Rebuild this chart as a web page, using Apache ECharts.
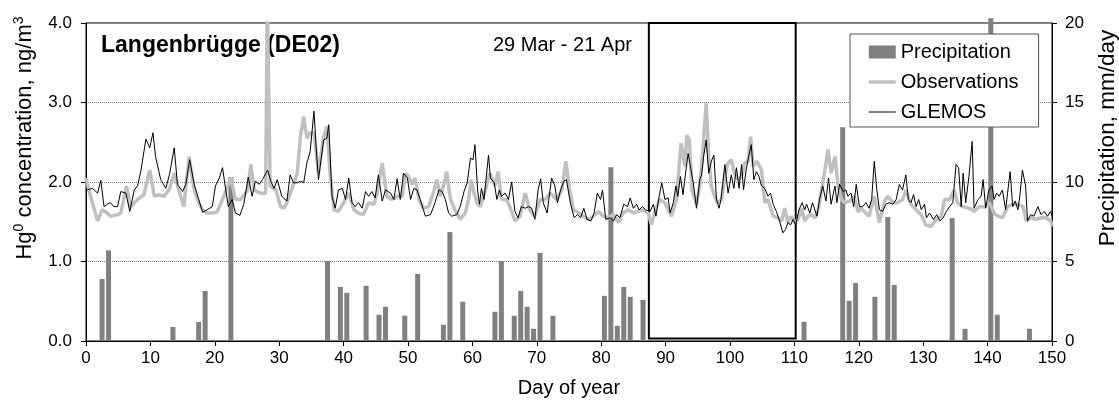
<!DOCTYPE html>
<html><head><meta charset="utf-8">
<script src="https://cdn.jsdelivr.net/npm/echarts@6/dist/echarts.min.js"></script>
<style>html,body{margin:0;padding:0;background:#fff}#c{width:1119px;height:403px}</style>
</head><body><div id="c"></div>
<script>
var xTicks = [0, 150, 10];
var concTicks = [0, 4, 1];
var precTicks = [0, 20, 5];
var boxDays = [87.4, 110.2];
var precip = [[2.5,3.9],[3.5,5.7],[13.5,0.88],[17.5,1.2],[18.5,3.15],[22.5,10.3],[37.5,5.03],[39.5,3.4],[40.5,3.03],[43.5,3.47],[45.5,1.65],[46.5,2.15],[49.5,1.59],[51.5,4.22],[55.5,1.02],[56.5,6.85],[58.5,2.47],[63.5,1.84],[64.5,5.03],[66.5,1.59],[67.5,3.15],[68.5,2.15],[69.5,0.77],[70.5,5.54],[72.5,1.59],[80.5,2.84],[81.5,10.93],[82.5,0.96],[83.5,3.4],[84.5,2.78],[86.5,2.59],[111.5,1.21],[117.5,13.44],[118.5,2.53],[119.5,3.65],[122.5,2.78],[124.5,7.8],[125.5,3.53],[134.5,7.73],[136.5,0.77],[140.5,20.3],[141.5,1.65],[146.5,0.77]];
var observations = [[0,2.05],[0.7,1.82],[1.8,1.51],[2.5,1.65],[3.3,1.61],[3.8,1.57],[4.9,1.59],[5.4,1.61],[6.3,1.95],[6.9,1.69],[8.0,1.78],[9.0,1.84],[9.9,2.15],[10.6,1.82],[11.3,1.84],[12.1,1.82],[12.9,1.90],[13.7,2.11],[14.4,1.90],[15.2,1.69],[16.0,2.32],[16.8,1.90],[17.3,1.78],[18.1,1.65],[18.8,1.61],[19.9,1.61],[20.4,1.63],[21.4,1.82],[22.5,2.05],[23.2,1.78],[24.0,1.78],[25.1,1.90],[25.6,2.22],[26.1,1.90],[27.1,1.86],[27.9,1.86],[28.15,4.3],[28.6,1.95],[29.5,1.90],[30.2,1.69],[30.7,1.67],[31.2,1.74],[32.2,1.97],[32.8,2.11],[33.3,2.57],[33.8,2.82],[34.3,2.55],[34.8,2.62],[35.4,2.62],[36.1,2.11],[36.9,2.57],[37.4,2.70],[37.9,2.11],[38.5,1.65],[39.2,1.63],[40.0,1.74],[40.8,1.86],[41.6,1.65],[42.3,1.61],[43.1,1.59],[43.9,1.74],[44.7,1.72],[45.2,1.86],[46.0,2.24],[46.7,1.82],[47.5,1.78],[48.3,1.82],[49.1,1.82],[49.6,2.11],[50.1,2.07],[50.6,1.97],[51.1,2.05],[51.7,1.78],[52.4,1.67],[53.2,1.69],[54.0,1.88],[54.5,2.03],[55.0,1.82],[55.5,1.95],[56.0,2.13],[56.6,1.78],[57.4,1.63],[58.1,1.53],[58.9,1.61],[59.4,1.78],[59.8,2.03],[60.2,1.88],[60.7,1.74],[61.2,1.69],[61.9,1.86],[62.7,2.11],[63.5,1.95],[64.0,2.13],[64.5,1.78],[65.3,1.78],[65.8,1.69],[66.6,1.51],[67.4,1.57],[68.2,1.86],[68.9,1.65],[69.7,1.57],[70.5,1.78],[71.3,1.78],[72.1,1.86],[73.1,1.78],[73.9,1.90],[74.5,2.26],[75.1,1.90],[75.7,1.65],[76.5,1.61],[77.2,1.57],[78.0,1.53],[78.8,1.57],[79.6,1.63],[80.3,1.57],[81.1,1.55],[81.9,1.59],[82.7,1.49],[83.4,1.61],[84.2,1.65],[85.0,1.61],[85.8,1.63],[86.5,1.65],[87.3,1.61],[87.8,1.46],[88.4,1.65],[89.1,1.78],[89.9,1.74],[90.9,1.57],[91.7,1.78],[92.4,2.49],[93.0,2.20],[93.3,2.59],[93.7,2.53],[94.1,1.90],[94.8,1.72],[95.3,1.95],[95.7,2.32],[96.3,2.99],[96.7,2.32],[97.1,1.95],[97.6,1.82],[98.1,1.74],[98.7,1.78],[99.2,2.07],[99.7,2.24],[100.2,2.28],[100.7,2.11],[101.2,2.03],[101.8,2.07],[102.3,2.24],[102.8,2.26],[103.2,2.57],[103.6,2.20],[104.2,2.26],[104.9,2.15],[105.4,1.74],[105.9,1.78],[106.7,1.57],[107.4,1.55],[108.0,1.51],[108.5,1.67],[109.0,1.49],[109.5,1.57],[110.0,1.49],[110.6,1.53],[111.1,1.67],[111.6,1.51],[112.1,1.57],[112.6,1.59],[113.2,1.55],[113.7,1.65],[114.2,1.90],[114.7,2.13],[115.2,2.41],[115.7,2.11],[116.3,2.32],[116.8,1.95],[117.3,1.78],[117.8,1.74],[118.6,1.76],[119.3,1.82],[119.9,1.62],[120.3,1.67],[121.1,1.61],[121.6,1.57],[122.4,1.82],[123.2,1.49],[124.0,1.76],[124.5,1.82],[125.3,1.74],[126.0,1.74],[126.8,1.78],[127.3,1.90],[128.1,1.72],[128.9,1.65],[129.7,1.59],[130.4,1.46],[131.2,1.44],[132.0,1.53],[132.8,1.57],[133.3,1.78],[134.1,1.78],[134.8,1.90],[135.3,1.74],[136.1,1.69],[137.2,1.67],[137.9,1.63],[138.7,1.69],[139.5,1.69],[140.3,1.74],[141.0,1.61],[141.6,1.57],[142.3,1.55],[143.1,1.69],[143.9,1.72],[144.7,1.72],[145.5,1.69],[146.0,1.51],[146.8,1.55],[147.5,1.53],[148.3,1.55],[149.1,1.55],[149.8,1.51],[150,1.44]];
var glemos = [[0.2,1.90],[1.0,1.92],[1.8,1.86],[2.3,2.02],[2.8,1.69],[3.3,1.72],[3.8,1.74],[4.3,1.69],[4.9,1.69],[5.4,1.88],[6.2,1.86],[6.8,1.63],[7.5,1.90],[8.0,1.95],[8.5,2.13],[9.3,2.54],[9.9,2.43],[10.4,2.62],[10.8,2.32],[11.6,2.03],[12.4,1.92],[13.0,2.11],[13.7,2.43],[14.2,1.97],[15.0,1.88],[15.5,1.97],[16.1,2.28],[16.8,1.97],[17.5,1.78],[18.1,1.62],[18.8,1.65],[19.6,1.69],[20.1,1.95],[20.7,2.05],[21.2,2.18],[21.7,1.90],[22.1,1.69],[22.7,1.78],[23.2,1.61],[23.9,1.58],[24.5,1.72],[25.2,2.06],[25.8,1.82],[26.3,2.01],[26.9,1.97],[27.4,2.03],[28.2,2.15],[28.7,2.01],[29.2,1.92],[29.7,2.03],[30.4,1.82],[31.2,1.76],[31.7,2.09],[32.2,1.99],[32.8,1.99],[33.3,2.01],[33.8,1.99],[34.3,2.24],[34.8,2.38],[35.4,2.89],[35.8,2.36],[36.1,2.03],[36.9,2.53],[37.4,2.55],[37.7,2.72],[38.2,1.82],[38.7,1.67],[39.2,1.90],[39.8,1.92],[40.3,1.78],[40.8,2.05],[41.3,1.74],[41.8,1.69],[42.3,1.74],[42.9,1.67],[43.4,1.88],[43.9,1.82],[44.4,1.88],[44.9,1.80],[45.4,2.09],[46.0,1.76],[46.5,1.90],[47.3,1.86],[47.8,1.78],[48.3,2.04],[48.8,1.78],[49.3,2.11],[49.9,2.05],[50.4,1.78],[50.9,1.92],[51.4,1.90],[51.9,1.78],[52.7,1.57],[53.5,1.59],[54.2,1.74],[54.8,1.90],[55.3,1.88],[55.8,1.78],[56.3,1.61],[56.8,1.57],[57.6,1.59],[58.1,1.69],[58.7,1.88],[59.2,1.99],[59.7,2.30],[60.1,2.28],[60.4,2.47],[60.8,1.90],[61.1,1.72],[61.4,1.92],[61.8,1.78],[62.5,2.34],[62.8,2.05],[63.4,1.99],[63.8,1.78],[64.2,1.90],[64.5,1.82],[65.1,1.86],[65.6,1.78],[66.1,2.00],[66.6,1.63],[67.1,1.55],[67.6,1.69],[68.2,1.67],[68.7,1.69],[69.2,1.67],[69.7,1.53],[70.2,1.90],[70.6,2.04],[71.0,1.74],[71.6,1.61],[72.3,2.05],[72.8,1.95],[73.2,1.74],[73.7,1.90],[74.2,2.01],[74.6,2.03],[75.2,1.74],[75.8,1.55],[76.3,1.59],[76.8,1.55],[77.3,1.67],[77.8,1.53],[78.4,1.51],[78.9,1.61],[79.4,1.86],[79.9,1.78],[80.2,1.90],[80.7,1.53],[81.4,1.55],[81.9,1.51],[82.4,1.59],[82.9,1.55],[83.5,1.72],[84.1,1.69],[84.5,1.80],[85.0,1.67],[85.5,1.72],[85.9,1.65],[86.4,1.69],[86.9,1.65],[87.6,1.63],[88.1,1.72],[88.5,1.57],[89.0,1.82],[89.4,1.99],[89.9,1.78],[90.4,1.80],[90.7,1.61],[91.2,1.74],[91.6,1.95],[91.9,1.82],[92.3,2.07],[92.7,1.84],[93.1,2.11],[93.5,2.36],[93.8,2.22],[94.3,1.99],[94.8,1.67],[95.3,2.03],[95.6,2.09],[95.9,2.32],[96.3,2.53],[96.7,2.11],[97.1,2.26],[97.5,2.34],[97.9,1.78],[98.3,1.67],[98.6,1.78],[99.2,2.22],[99.7,1.86],[100.2,2.09],[100.6,1.92],[101.0,2.18],[101.4,1.92],[101.8,2.22],[102.1,1.90],[102.5,2.15],[102.9,2.32],[103.3,2.47],[103.7,2.03],[104.1,2.13],[104.5,2.07],[104.9,1.95],[105.4,1.92],[105.9,1.82],[106.3,1.86],[106.7,1.72],[107.2,1.63],[107.7,1.51],[108.2,1.36],[108.6,1.40],[109.0,1.49],[109.4,1.46],[109.8,1.53],[110.2,1.46],[110.7,1.65],[111.2,1.74],[111.6,1.65],[111.9,1.72],[112.4,1.61],[112.8,1.74],[113.1,1.67],[113.5,1.57],[113.9,1.78],[114.4,1.95],[114.9,1.76],[115.3,2.05],[115.7,1.72],[116.3,1.95],[116.6,1.74],[117.0,1.97],[117.6,1.88],[118.0,1.90],[118.3,1.82],[118.8,1.86],[119.2,1.69],[119.6,1.97],[120.1,1.69],[120.6,1.69],[121.1,1.74],[121.6,1.67],[122.0,1.78],[122.4,2.26],[122.8,1.90],[123.2,1.65],[123.7,1.63],[124.2,1.72],[124.7,1.74],[125.3,1.72],[125.8,1.78],[126.3,1.97],[126.8,1.90],[127.3,2.09],[127.7,1.78],[128.1,1.74],[128.5,1.84],[128.9,1.69],[129.3,1.78],[129.7,1.65],[130.2,1.72],[130.5,1.55],[131.0,1.61],[131.6,1.53],[132.1,1.59],[132.6,1.51],[133.1,1.55],[133.6,1.63],[134.1,1.69],[134.6,1.74],[135.1,2.22],[135.5,2.18],[135.9,1.69],[136.2,2.11],[136.6,1.74],[137.1,2.07],[137.6,2.51],[137.9,1.67],[138.5,1.78],[139.0,1.82],[139.3,2.03],[139.7,1.67],[140.2,1.90],[140.7,1.95],[141.0,1.78],[141.4,1.86],[141.8,1.82],[142.3,1.90],[142.8,1.65],[143.1,1.86],[143.5,2.13],[143.9,1.69],[144.3,1.76],[144.7,1.65],[145.0,1.82],[145.4,2.15],[145.9,1.95],[146.2,1.51],[146.7,1.59],[147.2,1.57],[147.8,1.69],[148.3,1.59],[148.8,1.63],[149.3,1.57],[149.8,1.63],[150,1.57]];

var FF = '"Liberation Sans", Arial, sans-serif';
var chart = echarts.init(document.getElementById('c'));
var noSymbol = { color: 'rgba(0,0,0,0)', borderColor: 'rgba(0,0,0,0)', borderWidth: 0, opacity: 0 };
chart.setOption({
  animation: false,
  textStyle: { fontFamily: FF },
  grid: { left: 86, right: 67, top: 23, bottom: 61, show: true, borderColor: '#000', borderWidth: 1, backgroundColor: 'transparent' },
  legend: {
    orient: 'vertical', left: 850, top: 34,
    backgroundColor: '#fff', borderColor: '#555', borderWidth: 1,
    padding: [8, 20, 5, 17], itemWidth: 27, itemHeight: 13, itemGap: 10,
    textStyle: { fontSize: 20, color: '#000', fontFamily: FF },
    data: [
      { name: 'Precipitation', icon: 'rect' },
      { name: 'Observations', itemStyle: noSymbol, lineStyle: { color: '#c0c0c0', width: 3.5 } },
      { name: 'GLEMOS', itemStyle: noSymbol, lineStyle: { color: '#000', width: 1 } }
    ]
  },
  xAxis: {
    type: 'value', min: xTicks[0], max: xTicks[1], interval: xTicks[2],
    name: 'Day of year', nameLocation: 'middle', nameGap: 37,
    nameTextStyle: { fontSize: 20, color: '#000', fontFamily: FF },
    axisLine: { lineStyle: { color: '#000', width: 1 } },
    axisTick: { show: true, length: 5, lineStyle: { color: '#000' } },
    axisLabel: { fontSize: 17, color: '#000', margin: 9, fontFamily: FF },
    splitLine: { show: false }
  },
  yAxis: [{
    type: 'value', min: concTicks[0], max: concTicks[1], interval: concTicks[2],
    axisLine: { show: true, lineStyle: { color: '#000', width: 1 } },
    axisTick: { show: true, length: 5, lineStyle: { color: '#000' } },
    axisLabel: { fontSize: 17, color: '#000', margin: 14, fontFamily: FF, formatter: function (v) { return v.toFixed(1); } },
    splitLine: { show: true, lineStyle: { color: '#808080', type: 'dotted', width: 1 } }
  }, {
    type: 'value', min: precTicks[0], max: precTicks[1], interval: precTicks[2], position: 'right',
    axisLine: { show: true, lineStyle: { color: '#000', width: 1 } },
    axisTick: { show: true, length: 5, lineStyle: { color: '#000' } },
    axisLabel: { fontSize: 17, color: '#000', margin: 13, fontFamily: FF },
    splitLine: { show: false }
  }],
  graphic: [
    { type: 'text', x: 101, y: 46, style: { text: 'Langenbrügge (DE02)', fontSize: 23, fontWeight: 'bold', fontFamily: FF, fill: '#000', align: 'left', verticalAlign: 'middle' } },
    { type: 'text', x: 493, y: 45, style: { text: '29 Mar - 21 Apr', fontSize: 20, fontFamily: FF, fill: '#000', align: 'left', verticalAlign: 'middle' } },
    { type: 'text', x: 25, y: 138, rotation: Math.PI / 2, style: { text: '{n|Hg}{s|0}{n| concentration, ng/m}{s|3}', align: 'center', verticalAlign: 'middle', fill: '#000',
        rich: { n: { fontSize: 22, fontFamily: FF, fill: '#000' }, s: { fontSize: 14, fontFamily: FF, fill: '#000', padding: [0, 0, 12, 0] } } } },
    { type: 'text', x: 1108, y: 138, rotation: Math.PI / 2, style: { text: 'Precipitation, mm/day', fontSize: 22.5, fontFamily: FF, fill: '#000', align: 'center', verticalAlign: 'middle' } }
  ],
  series: [{
    name: 'Precipitation', type: 'bar', yAxisIndex: 1, data: precip, barWidth: 5, clip: false,
    itemStyle: { color: '#808080' }
  }, {
    name: 'Observations', type: 'line', data: observations, symbol: 'none', showSymbol: false, clip: true,
    lineStyle: { color: '#c0c0c0', width: 3.5 }, itemStyle: { color: '#c0c0c0' }
  }, {
    name: 'GLEMOS', type: 'line', data: glemos, symbol: 'none', showSymbol: false, clip: true,
    lineStyle: { color: '#000', width: 1 }, itemStyle: { color: '#000' }, z: 3,
    markArea: { silent: true, itemStyle: { color: 'rgba(0,0,0,0)', borderColor: '#000', borderWidth: 2 },
      data: [[{ xAxis: boxDays[0], yAxis: 0.03 }, { xAxis: boxDays[1], yAxis: 4 }]] }
  }]
});
</script></body></html>
